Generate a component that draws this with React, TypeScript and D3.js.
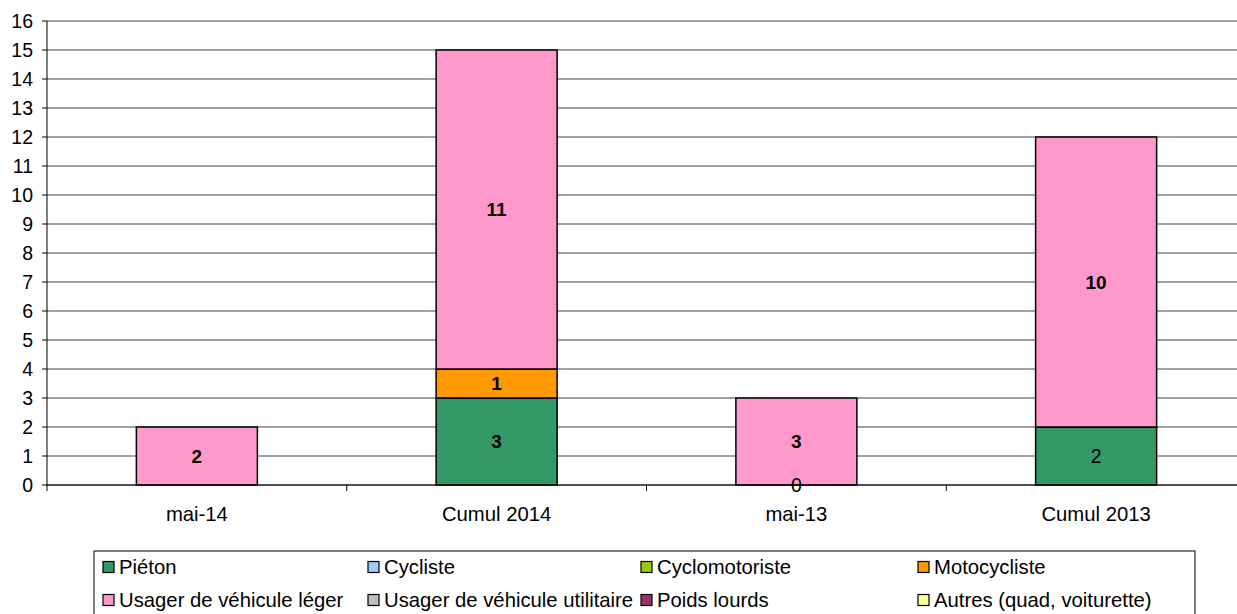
import React from "react";
import * as d3 from "d3";

const categories = ["mai-14", "Cumul 2014", "mai-13", "Cumul 2013"];
const seriesNames = [
  "Piéton",
  "Cycliste",
  "Cyclomotoriste",
  "Motocycliste",
  "Usager de véhicule léger",
  "Usager de véhicule utilitaire",
  "Poids lourds",
  "Autres (quad, voiturette)",
];
const pieton = [null, 3, 0, 2];
const cycliste = [null, null, null, null];
const cyclomotoriste = [null, null, null, null];
const motocycliste = [null, 1, null, null];
const usagerVL = [2, 11, 3, 10];
const usagerVU = [null, null, null, null];
const poidsLourds = [null, null, null, null];
const autres = [null, null, null, null];
const yTicks = d3.range(0, 17);

const seriesValues: (number | null)[][] = [
  pieton, cycliste, cyclomotoriste, motocycliste, usagerVL, usagerVU, poidsLourds, autres,
];
const colors = ["#339966", "#99CCFF", "#99CC00", "#FF9900", "#FF99CC", "#C0C0C0", "#993366", "#FFFF99"];
// label weight per series/category (as in the reference)
const boldLabels = [
  [true, true, false, false],
  [true, true, true, true],
  [true, true, true, true],
  [true, true, true, true],
  [true, true, true, true],
  [true, true, true, true],
  [true, true, true, true],
  [true, true, true, true],
];

const W = 1237;
const H = 614;
const left = 47;
const top = 21;
const bottom = 485;

export default function App() {
  const x = d3.scaleBand<string>().domain(categories).range([left, left + 1199]).paddingInner(0).paddingOuter(0);
  const y = d3.scaleLinear().domain([0, 16]).range([bottom, top]);
  const barW = 121;
  const font = "'Liberation Sans', Arial, sans-serif";
  const fs = 19.5;
  const fsText = 20.3;

  const bars: React.ReactNode[] = [];
  const labels: React.ReactNode[] = [];
  categories.forEach((c, ci) => {
    let acc = 0;
    seriesValues.forEach((vals, si) => {
      const v = vals[ci];
      if (v === null || v === undefined) return;
      const y0 = y(acc);
      const y1 = y(acc + v);
      const cx = (x(c) as number) + x.bandwidth() / 2;
      if (v > 0) {
        bars.push(
          <rect key={`b${si}-${ci}`} x={cx - barW / 2} y={y1} width={barW} height={y0 - y1}
            fill={colors[si]} stroke="#000" strokeWidth={1.5} />
        );
      }
      labels.push(
        <text key={`l${si}-${ci}`} x={cx} y={(y0 + y1) / 2} textAnchor="middle" dominantBaseline="central"
          fontSize={boldLabels[si][ci] ? 19 : fs} fontWeight={boldLabels[si][ci] ? "bold" : "normal"} fontFamily={font} fill="#000">
          {v}
        </text>
      );
      acc += v;
    });
  });

  const legendCols = [103, 368, 641, 918];
  const legendRows = [567, 600];

  return (
    <svg width={W} height={H} style={{ position: "absolute", left: 0, top: 0 }}>
      <rect width={W} height={H} fill="#fff" />
      {yTicks.map((t) => (
        <g key={t}>
          <line x1={left} x2={W} y1={y(t)} y2={y(t)} stroke="#808080" strokeWidth={1.3} />
          <line x1={left - 5} x2={left} y1={y(t)} y2={y(t)} stroke="#000" />
          <text x={33} y={y(t)} textAnchor="end" dominantBaseline="central" fontSize={fs} fontFamily={font}>
            {t}
          </text>
        </g>
      ))}
      {bars}
      <line x1={left} x2={left} y1={top} y2={bottom} stroke="#000" />
      <line x1={left} x2={W} y1={bottom} y2={bottom} stroke="#000" />
      {categories.map((c) => (
        <g key={c}>
          <line x1={(x(c) as number) + x.bandwidth()} x2={(x(c) as number) + x.bandwidth()} y1={bottom} y2={bottom + 6} stroke="#000" />
          <text x={(x(c) as number) + x.bandwidth() / 2} y={514} textAnchor="middle" dominantBaseline="central"
            fontSize={fsText} fontFamily={font}>
            {c}
          </text>
        </g>
      ))}
      <line x1={left} x2={left} y1={bottom} y2={bottom + 6} stroke="#000" />
      {labels}
      <rect x={94} y={551} width={1101} height={80} fill="none" stroke="#000" strokeWidth={1} />
      {seriesNames.map((n, i) => {
        const cx = legendCols[i % 4];
        const cy = legendRows[Math.floor(i / 4)];
        return (
          <g key={n}>
            <rect x={cx} y={cy - 5.5} width={11} height={11} fill={colors[i]} stroke="#000" strokeWidth={1.2} />
            <text x={cx + 16} y={cy} dominantBaseline="central" fontSize={fsText} fontFamily={font}>
              {n}
            </text>
          </g>
        );
      })}
    </svg>
  );
}
